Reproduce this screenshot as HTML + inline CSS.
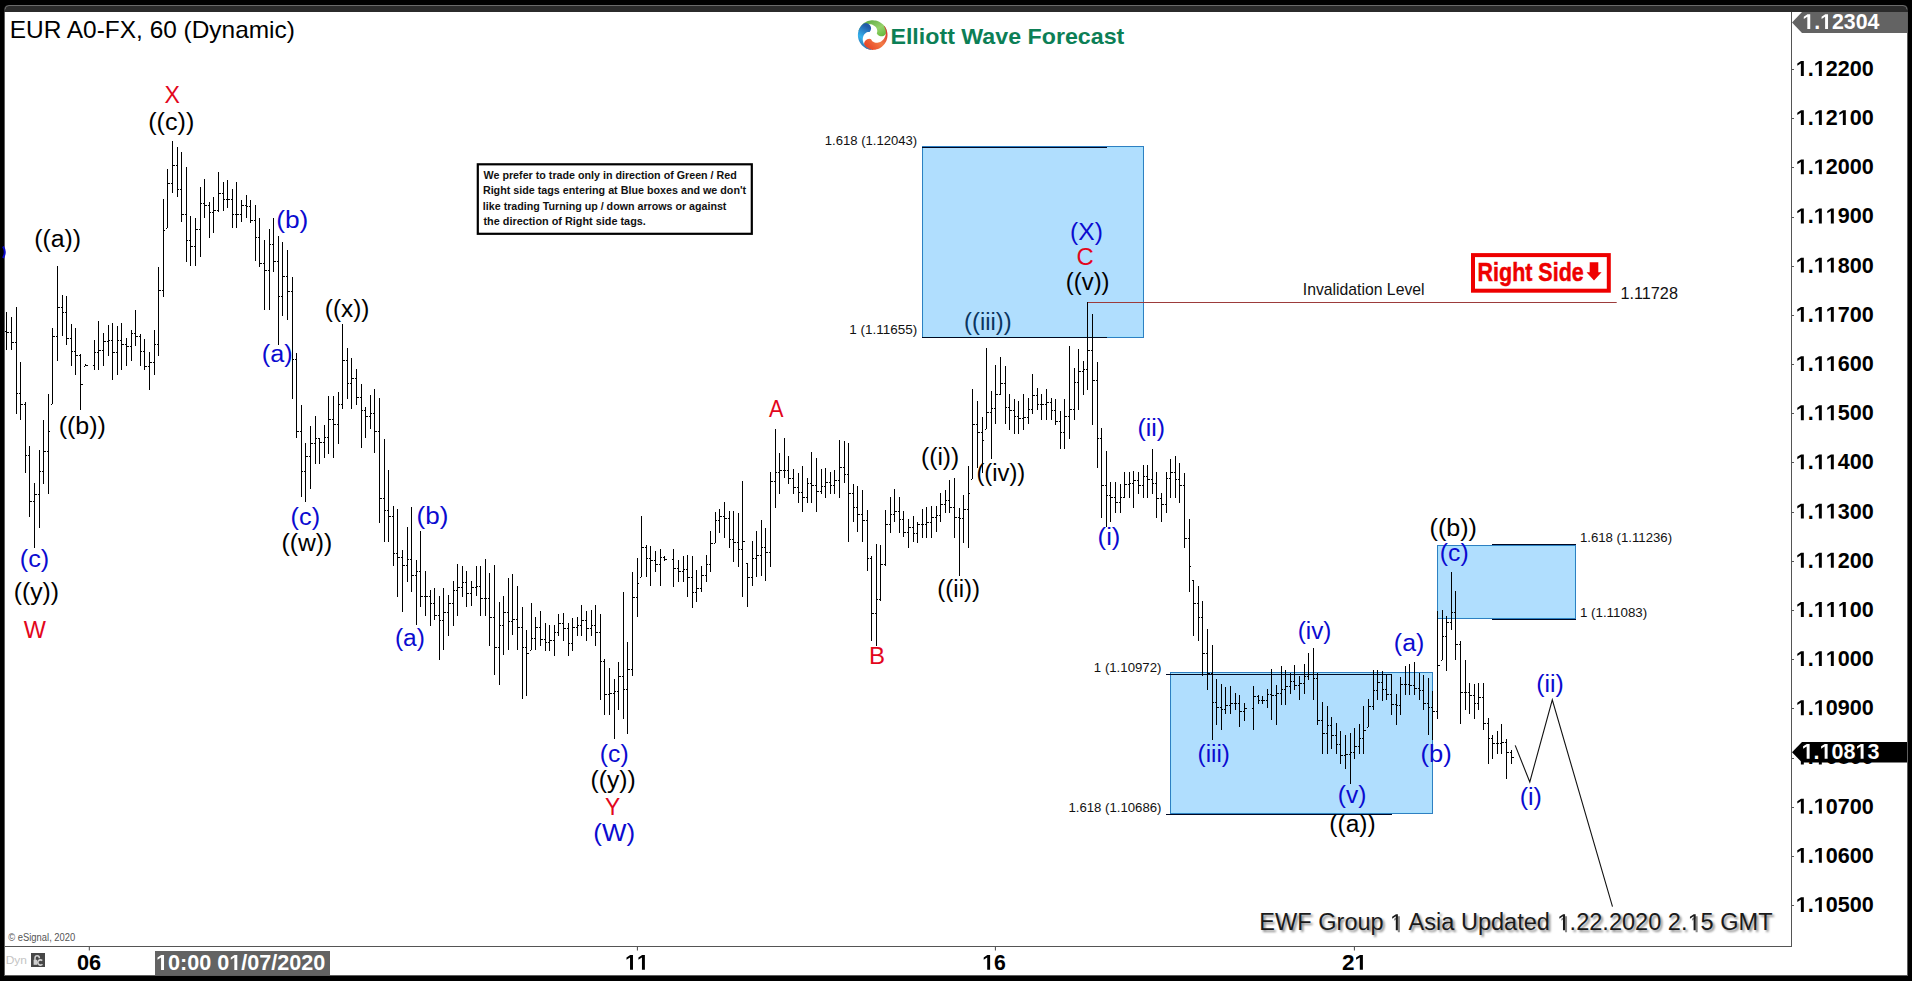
<!DOCTYPE html>
<html><head><meta charset="utf-8"><title>EUR A0-FX 60</title>
<style>html,body{margin:0;padding:0;background:#000;overflow:hidden}
svg{display:block} text{font-family:"Liberation Sans",sans-serif}</style></head>
<body><svg width="1912" height="981" viewBox="0 0 1912 981">
<rect x="0" y="0" width="1912" height="981" fill="#000"/>
<path d="M4 12 L4 10 Q4 5 9 5 L1903 5 Q1908 5 1908 10 L1908 12 Z" fill="#2b2b2b"/>
<path d="M5 9.5 Q5 5.5 9 5.5 L1903 5.5 Q1907 5.5 1907 9.5" fill="none" stroke="#6a6a6a" stroke-width="1"/>
<rect x="4" y="12" width="1904" height="964" fill="#5e5e5e"/>
<rect x="5" y="12" width="1902" height="963" fill="#fff"/>
<line x1="1791.5" y1="12" x2="1791.5" y2="947" stroke="#555" stroke-width="1"/>
<line x1="5" y1="946.5" x2="1792" y2="946.5" stroke="#555" stroke-width="1"/>
<line x1="1791" y1="69.5" x2="1794" y2="69.5" stroke="#555" stroke-width="1"/>
<text x="1795.83" y="75.9" font-size="21.6" fill="#000" font-weight="bold" textLength="77.96" lengthAdjust="spacingAndGlyphs" > . 2200</text>
<path d="M478 0L478 1170L140 959L140 1180L493 1409L759 1409L759 0Z" transform="translate(1795.83 75.9) scale(0.01053 -0.01055)" fill="#000" />
<path d="M478 0L478 1170L140 959L140 1180L493 1409L759 1409L759 0Z" transform="translate(1813.82 75.9) scale(0.01053 -0.01055)" fill="#000" />
<line x1="1791" y1="118.5" x2="1794" y2="118.5" stroke="#555" stroke-width="1"/>
<text x="1795.83" y="125.1" font-size="21.6" fill="#000" font-weight="bold" textLength="77.96" lengthAdjust="spacingAndGlyphs" > . 2 00</text>
<path d="M478 0L478 1170L140 959L140 1180L493 1409L759 1409L759 0Z" transform="translate(1795.83 125.1) scale(0.01053 -0.01055)" fill="#000" />
<path d="M478 0L478 1170L140 959L140 1180L493 1409L759 1409L759 0Z" transform="translate(1813.82 125.1) scale(0.01053 -0.01055)" fill="#000" />
<path d="M478 0L478 1170L140 959L140 1180L493 1409L759 1409L759 0Z" transform="translate(1837.81 125.1) scale(0.01053 -0.01055)" fill="#000" />
<line x1="1791" y1="167.5" x2="1794" y2="167.5" stroke="#555" stroke-width="1"/>
<text x="1795.83" y="174.3" font-size="21.6" fill="#000" font-weight="bold" textLength="77.96" lengthAdjust="spacingAndGlyphs" > . 2000</text>
<path d="M478 0L478 1170L140 959L140 1180L493 1409L759 1409L759 0Z" transform="translate(1795.83 174.3) scale(0.01053 -0.01055)" fill="#000" />
<path d="M478 0L478 1170L140 959L140 1180L493 1409L759 1409L759 0Z" transform="translate(1813.82 174.3) scale(0.01053 -0.01055)" fill="#000" />
<line x1="1791" y1="217.5" x2="1794" y2="217.5" stroke="#555" stroke-width="1"/>
<text x="1795.83" y="223.4" font-size="21.6" fill="#000" font-weight="bold" textLength="77.96" lengthAdjust="spacingAndGlyphs" > .  900</text>
<path d="M478 0L478 1170L140 959L140 1180L493 1409L759 1409L759 0Z" transform="translate(1795.83 223.4) scale(0.01053 -0.01055)" fill="#000" />
<path d="M478 0L478 1170L140 959L140 1180L493 1409L759 1409L759 0Z" transform="translate(1813.82 223.4) scale(0.01053 -0.01055)" fill="#000" />
<path d="M478 0L478 1170L140 959L140 1180L493 1409L759 1409L759 0Z" transform="translate(1825.81 223.4) scale(0.01053 -0.01055)" fill="#000" />
<line x1="1791" y1="266.5" x2="1794" y2="266.5" stroke="#555" stroke-width="1"/>
<text x="1795.83" y="272.6" font-size="21.6" fill="#000" font-weight="bold" textLength="77.96" lengthAdjust="spacingAndGlyphs" > .  800</text>
<path d="M478 0L478 1170L140 959L140 1180L493 1409L759 1409L759 0Z" transform="translate(1795.83 272.6) scale(0.01053 -0.01055)" fill="#000" />
<path d="M478 0L478 1170L140 959L140 1180L493 1409L759 1409L759 0Z" transform="translate(1813.82 272.6) scale(0.01053 -0.01055)" fill="#000" />
<path d="M478 0L478 1170L140 959L140 1180L493 1409L759 1409L759 0Z" transform="translate(1825.81 272.6) scale(0.01053 -0.01055)" fill="#000" />
<line x1="1791" y1="315.5" x2="1794" y2="315.5" stroke="#555" stroke-width="1"/>
<text x="1795.83" y="321.8" font-size="21.6" fill="#000" font-weight="bold" textLength="77.96" lengthAdjust="spacingAndGlyphs" > .  700</text>
<path d="M478 0L478 1170L140 959L140 1180L493 1409L759 1409L759 0Z" transform="translate(1795.83 321.8) scale(0.01053 -0.01055)" fill="#000" />
<path d="M478 0L478 1170L140 959L140 1180L493 1409L759 1409L759 0Z" transform="translate(1813.82 321.8) scale(0.01053 -0.01055)" fill="#000" />
<path d="M478 0L478 1170L140 959L140 1180L493 1409L759 1409L759 0Z" transform="translate(1825.81 321.8) scale(0.01053 -0.01055)" fill="#000" />
<line x1="1791" y1="364.5" x2="1794" y2="364.5" stroke="#555" stroke-width="1"/>
<text x="1795.83" y="371.0" font-size="21.6" fill="#000" font-weight="bold" textLength="77.96" lengthAdjust="spacingAndGlyphs" > .  600</text>
<path d="M478 0L478 1170L140 959L140 1180L493 1409L759 1409L759 0Z" transform="translate(1795.83 371.0) scale(0.01053 -0.01055)" fill="#000" />
<path d="M478 0L478 1170L140 959L140 1180L493 1409L759 1409L759 0Z" transform="translate(1813.82 371.0) scale(0.01053 -0.01055)" fill="#000" />
<path d="M478 0L478 1170L140 959L140 1180L493 1409L759 1409L759 0Z" transform="translate(1825.81 371.0) scale(0.01053 -0.01055)" fill="#000" />
<line x1="1791" y1="413.5" x2="1794" y2="413.5" stroke="#555" stroke-width="1"/>
<text x="1795.83" y="420.2" font-size="21.6" fill="#000" font-weight="bold" textLength="77.96" lengthAdjust="spacingAndGlyphs" > .  500</text>
<path d="M478 0L478 1170L140 959L140 1180L493 1409L759 1409L759 0Z" transform="translate(1795.83 420.2) scale(0.01053 -0.01055)" fill="#000" />
<path d="M478 0L478 1170L140 959L140 1180L493 1409L759 1409L759 0Z" transform="translate(1813.82 420.2) scale(0.01053 -0.01055)" fill="#000" />
<path d="M478 0L478 1170L140 959L140 1180L493 1409L759 1409L759 0Z" transform="translate(1825.81 420.2) scale(0.01053 -0.01055)" fill="#000" />
<line x1="1791" y1="462.5" x2="1794" y2="462.5" stroke="#555" stroke-width="1"/>
<text x="1795.83" y="469.3" font-size="21.6" fill="#000" font-weight="bold" textLength="77.96" lengthAdjust="spacingAndGlyphs" > .  400</text>
<path d="M478 0L478 1170L140 959L140 1180L493 1409L759 1409L759 0Z" transform="translate(1795.83 469.3) scale(0.01053 -0.01055)" fill="#000" />
<path d="M478 0L478 1170L140 959L140 1180L493 1409L759 1409L759 0Z" transform="translate(1813.82 469.3) scale(0.01053 -0.01055)" fill="#000" />
<path d="M478 0L478 1170L140 959L140 1180L493 1409L759 1409L759 0Z" transform="translate(1825.81 469.3) scale(0.01053 -0.01055)" fill="#000" />
<line x1="1791" y1="512.5" x2="1794" y2="512.5" stroke="#555" stroke-width="1"/>
<text x="1795.83" y="518.5" font-size="21.6" fill="#000" font-weight="bold" textLength="77.96" lengthAdjust="spacingAndGlyphs" > .  300</text>
<path d="M478 0L478 1170L140 959L140 1180L493 1409L759 1409L759 0Z" transform="translate(1795.83 518.5) scale(0.01053 -0.01055)" fill="#000" />
<path d="M478 0L478 1170L140 959L140 1180L493 1409L759 1409L759 0Z" transform="translate(1813.82 518.5) scale(0.01053 -0.01055)" fill="#000" />
<path d="M478 0L478 1170L140 959L140 1180L493 1409L759 1409L759 0Z" transform="translate(1825.81 518.5) scale(0.01053 -0.01055)" fill="#000" />
<line x1="1791" y1="561.5" x2="1794" y2="561.5" stroke="#555" stroke-width="1"/>
<text x="1795.83" y="567.7" font-size="21.6" fill="#000" font-weight="bold" textLength="77.96" lengthAdjust="spacingAndGlyphs" > .  200</text>
<path d="M478 0L478 1170L140 959L140 1180L493 1409L759 1409L759 0Z" transform="translate(1795.83 567.7) scale(0.01053 -0.01055)" fill="#000" />
<path d="M478 0L478 1170L140 959L140 1180L493 1409L759 1409L759 0Z" transform="translate(1813.82 567.7) scale(0.01053 -0.01055)" fill="#000" />
<path d="M478 0L478 1170L140 959L140 1180L493 1409L759 1409L759 0Z" transform="translate(1825.81 567.7) scale(0.01053 -0.01055)" fill="#000" />
<line x1="1791" y1="610.5" x2="1794" y2="610.5" stroke="#555" stroke-width="1"/>
<text x="1795.83" y="616.9" font-size="21.6" fill="#000" font-weight="bold" textLength="77.96" lengthAdjust="spacingAndGlyphs" > .   00</text>
<path d="M478 0L478 1170L140 959L140 1180L493 1409L759 1409L759 0Z" transform="translate(1795.83 616.9) scale(0.01053 -0.01055)" fill="#000" />
<path d="M478 0L478 1170L140 959L140 1180L493 1409L759 1409L759 0Z" transform="translate(1813.82 616.9) scale(0.01053 -0.01055)" fill="#000" />
<path d="M478 0L478 1170L140 959L140 1180L493 1409L759 1409L759 0Z" transform="translate(1825.81 616.9) scale(0.01053 -0.01055)" fill="#000" />
<path d="M478 0L478 1170L140 959L140 1180L493 1409L759 1409L759 0Z" transform="translate(1837.81 616.9) scale(0.01053 -0.01055)" fill="#000" />
<line x1="1791" y1="659.5" x2="1794" y2="659.5" stroke="#555" stroke-width="1"/>
<text x="1795.83" y="666.1" font-size="21.6" fill="#000" font-weight="bold" textLength="77.96" lengthAdjust="spacingAndGlyphs" > .  000</text>
<path d="M478 0L478 1170L140 959L140 1180L493 1409L759 1409L759 0Z" transform="translate(1795.83 666.1) scale(0.01053 -0.01055)" fill="#000" />
<path d="M478 0L478 1170L140 959L140 1180L493 1409L759 1409L759 0Z" transform="translate(1813.82 666.1) scale(0.01053 -0.01055)" fill="#000" />
<path d="M478 0L478 1170L140 959L140 1180L493 1409L759 1409L759 0Z" transform="translate(1825.81 666.1) scale(0.01053 -0.01055)" fill="#000" />
<line x1="1791" y1="708.5" x2="1794" y2="708.5" stroke="#555" stroke-width="1"/>
<text x="1795.83" y="715.2" font-size="21.6" fill="#000" font-weight="bold" textLength="77.96" lengthAdjust="spacingAndGlyphs" > . 0900</text>
<path d="M478 0L478 1170L140 959L140 1180L493 1409L759 1409L759 0Z" transform="translate(1795.83 715.2) scale(0.01053 -0.01055)" fill="#000" />
<path d="M478 0L478 1170L140 959L140 1180L493 1409L759 1409L759 0Z" transform="translate(1813.82 715.2) scale(0.01053 -0.01055)" fill="#000" />
<line x1="1791" y1="758.5" x2="1794" y2="758.5" stroke="#555" stroke-width="1"/>
<text x="1795.83" y="764.4" font-size="21.6" fill="#000" font-weight="bold" textLength="77.96" lengthAdjust="spacingAndGlyphs" > . 0800</text>
<path d="M478 0L478 1170L140 959L140 1180L493 1409L759 1409L759 0Z" transform="translate(1795.83 764.4) scale(0.01053 -0.01055)" fill="#000" />
<path d="M478 0L478 1170L140 959L140 1180L493 1409L759 1409L759 0Z" transform="translate(1813.82 764.4) scale(0.01053 -0.01055)" fill="#000" />
<line x1="1791" y1="807.5" x2="1794" y2="807.5" stroke="#555" stroke-width="1"/>
<text x="1795.83" y="813.6" font-size="21.6" fill="#000" font-weight="bold" textLength="77.96" lengthAdjust="spacingAndGlyphs" > . 0700</text>
<path d="M478 0L478 1170L140 959L140 1180L493 1409L759 1409L759 0Z" transform="translate(1795.83 813.6) scale(0.01053 -0.01055)" fill="#000" />
<path d="M478 0L478 1170L140 959L140 1180L493 1409L759 1409L759 0Z" transform="translate(1813.82 813.6) scale(0.01053 -0.01055)" fill="#000" />
<line x1="1791" y1="856.5" x2="1794" y2="856.5" stroke="#555" stroke-width="1"/>
<text x="1795.83" y="862.8" font-size="21.6" fill="#000" font-weight="bold" textLength="77.96" lengthAdjust="spacingAndGlyphs" > . 0600</text>
<path d="M478 0L478 1170L140 959L140 1180L493 1409L759 1409L759 0Z" transform="translate(1795.83 862.8) scale(0.01053 -0.01055)" fill="#000" />
<path d="M478 0L478 1170L140 959L140 1180L493 1409L759 1409L759 0Z" transform="translate(1813.82 862.8) scale(0.01053 -0.01055)" fill="#000" />
<line x1="1791" y1="905.5" x2="1794" y2="905.5" stroke="#555" stroke-width="1"/>
<text x="1795.83" y="912.0" font-size="21.6" fill="#000" font-weight="bold" textLength="77.96" lengthAdjust="spacingAndGlyphs" > . 0500</text>
<path d="M478 0L478 1170L140 959L140 1180L493 1409L759 1409L759 0Z" transform="translate(1795.83 912.0) scale(0.01053 -0.01055)" fill="#000" />
<path d="M478 0L478 1170L140 959L140 1180L493 1409L759 1409L759 0Z" transform="translate(1813.82 912.0) scale(0.01053 -0.01055)" fill="#000" />
<path d="M1792 22.5 L1802 12 L1907 12 L1907 33 L1802 33 Z" fill="#636363"/>
<text x="1802.34" y="29.0" font-size="21.4" fill="#fff" font-weight="bold" textLength="77.07" lengthAdjust="spacingAndGlyphs" > . 2304</text>
<path d="M478 0L478 1170L140 959L140 1180L493 1409L759 1409L759 0Z" transform="translate(1802.34 29.0) scale(0.01041 -0.01045)" fill="#fff" />
<path d="M478 0L478 1170L140 959L140 1180L493 1409L759 1409L759 0Z" transform="translate(1820.12 29.0) scale(0.01041 -0.01045)" fill="#fff" />
<path d="M1792 752.3 L1802 742 L1907 742 L1907 762.5 L1802 762.5 Z" fill="#000"/>
<text x="1801.63" y="758.7" font-size="21.4" fill="#fff" font-weight="bold" textLength="77.95" lengthAdjust="spacingAndGlyphs" > . 08 3</text>
<path d="M478 0L478 1170L140 959L140 1180L493 1409L759 1409L759 0Z" transform="translate(1801.63 758.7) scale(0.01053 -0.01045)" fill="#fff" />
<path d="M478 0L478 1170L140 959L140 1180L493 1409L759 1409L759 0Z" transform="translate(1819.61 758.7) scale(0.01053 -0.01045)" fill="#fff" />
<path d="M478 0L478 1170L140 959L140 1180L493 1409L759 1409L759 0Z" transform="translate(1855.59 758.7) scale(0.01053 -0.01045)" fill="#fff" />
<line x1="89.3" y1="947" x2="89.3" y2="950.5" stroke="#444" stroke-width="1"/>
<text x="76.94" y="969.8" font-size="21.4" fill="#000" font-weight="bold" textLength="24.14" lengthAdjust="spacingAndGlyphs" >06</text>
<line x1="637.4" y1="947" x2="637.4" y2="950.5" stroke="#444" stroke-width="1"/>
<text x="625.03" y="969.8" font-size="21.4" fill="#000" font-weight="bold" textLength="23.84" lengthAdjust="spacingAndGlyphs" >  </text>
<path d="M478 0L478 1170L140 959L140 1180L493 1409L759 1409L759 0Z" transform="translate(625.03 969.8) scale(0.01047 -0.01045)" fill="#000" />
<path d="M478 0L478 1170L140 959L140 1180L493 1409L759 1409L759 0Z" transform="translate(636.95 969.8) scale(0.01047 -0.01045)" fill="#000" />
<line x1="995.4" y1="947" x2="995.4" y2="950.5" stroke="#444" stroke-width="1"/>
<text x="982.25" y="969.8" font-size="21.4" fill="#000" font-weight="bold" textLength="23.62" lengthAdjust="spacingAndGlyphs" > 6</text>
<path d="M478 0L478 1170L140 959L140 1180L493 1409L759 1409L759 0Z" transform="translate(982.25 969.8) scale(0.01037 -0.01045)" fill="#000" />
<line x1="1354.4" y1="947" x2="1354.4" y2="950.5" stroke="#444" stroke-width="1"/>
<text x="1342.02" y="969.8" font-size="21.4" fill="#000" font-weight="bold" textLength="25.06" lengthAdjust="spacingAndGlyphs" >2 </text>
<path d="M478 0L478 1170L140 959L140 1180L493 1409L759 1409L759 0Z" transform="translate(1354.55 969.8) scale(0.01100 -0.01045)" fill="#000" />
<rect x="155" y="951" width="175" height="24" fill="#636363"/>
<text x="156.02" y="969.9" font-size="21.6" fill="#fff" font-weight="bold" textLength="169.36" lengthAdjust="spacingAndGlyphs" > 0:00 0 /07/2020</text>
<path d="M478 0L478 1170L140 959L140 1180L493 1409L759 1409L759 0Z" transform="translate(156.02 969.9) scale(0.01055 -0.01055)" fill="#fff" />
<path d="M478 0L478 1170L140 959L140 1180L493 1409L759 1409L759 0Z" transform="translate(229.28 969.9) scale(0.01055 -0.01055)" fill="#fff" />
<text x="5.72" y="964.2" font-size="11.2" fill="#c4c4c4" font-weight="normal" textLength="21.26" lengthAdjust="spacingAndGlyphs" >Dyn</text>
<rect x="31" y="953" width="14" height="14" fill="#474747"/>
<path d="M35 962.5 V958 Q35 955.8 37.2 955.8 Q39.4 955.8 39.4 958.2" fill="none" stroke="#d0d0d0" stroke-width="1.5"/>
<rect x="33.6" y="959.8" width="3.6" height="5" fill="#d0d0d0"/>
<path d="M42.2 960.6 A2.6 2.6 0 1 0 42.4 964.2" fill="none" stroke="#d0d0d0" stroke-width="1.7"/>
<text x="8.26" y="940.8" font-size="10" fill="#555" font-weight="normal" textLength="67.01" lengthAdjust="spacingAndGlyphs" >© eSignal, 2020</text>
<text x="9.81" y="37.9" font-size="23.4" fill="#000" font-weight="normal" textLength="285.1" lengthAdjust="spacingAndGlyphs" >EUR A0-FX, 60 (Dynamic)</text>
<defs>
<linearGradient id="gG" x1="0" y1="0" x2="1" y2="1"><stop offset="0" stop-color="#4f9d3a"/><stop offset="0.6" stop-color="#95d26a"/><stop offset="1" stop-color="#5cb434"/></linearGradient>
<linearGradient id="gR" x1="1" y1="0" x2="0" y2="1"><stop offset="0" stop-color="#c9202a"/><stop offset="0.5" stop-color="#f37b45"/><stop offset="1" stop-color="#e2361f"/></linearGradient>
<linearGradient id="gB" x1="0" y1="1" x2="0.3" y2="0"><stop offset="0" stop-color="#2a4f8c"/><stop offset="0.5" stop-color="#35b2ec"/><stop offset="1" stop-color="#235aa8"/></linearGradient>
</defs>
<path d="M858.47 31.02 L858.88 29.80 L859.40 28.61 L860.01 27.48 L860.73 26.40 L861.53 25.39 L862.42 24.45 L863.39 23.60 L864.42 22.83 L865.52 22.16 L866.68 21.58 L867.88 21.11 L869.12 20.74 L870.38 20.48 L871.67 20.34 L872.96 20.30 L874.25 20.38 L875.52 20.57 L876.78 20.87 L878.00 21.28 L879.19 21.80 L880.32 22.41 L881.40 23.13 L882.41 23.93 L883.35 24.82 L884.20 25.79 L884.97 26.82 L885.64 27.92 L886.22 29.08 A5.20 5.20 0 0 1 876.72 33.31 L876.98 32.73 L877.16 32.09 L877.25 31.42 L877.25 30.71 L877.15 29.98 L876.95 29.25 L876.66 28.52 L876.26 27.80 L875.76 27.12 L875.17 26.48 L874.49 25.90 L873.72 25.38 L872.88 24.93 L871.96 24.58 L870.99 24.32 L869.97 24.16 L868.92 24.11 L867.84 24.18 L866.75 24.36 L865.66 24.67 L864.60 25.09 L863.56 25.64 L862.58 26.30 L861.66 27.08 L860.81 27.96 L860.07 28.94 L859.44 30.01 L858.95 31.16 Z" fill="url(#gG)"/>
<path d="M884.36 25.99 L885.16 27.12 L885.85 28.32 L886.43 29.57 L886.89 30.88 L887.22 32.22 L887.42 33.59 L887.50 34.97 L887.45 36.35 L887.27 37.72 L886.96 39.07 L886.52 40.39 L885.97 41.65 L885.30 42.86 L884.52 44.01 L883.64 45.07 L882.66 46.05 L881.59 46.93 L880.45 47.71 L879.24 48.38 L877.97 48.93 L876.66 49.36 L875.31 49.67 L873.93 49.85 L872.55 49.90 L871.17 49.82 L869.80 49.61 L868.46 49.28 L867.16 48.82 A5.20 5.20 0 0 1 871.05 39.18 L871.30 39.79 L871.65 40.37 L872.10 40.92 L872.64 41.42 L873.27 41.86 L873.97 42.22 L874.75 42.50 L875.59 42.69 L876.48 42.77 L877.39 42.74 L878.33 42.60 L879.28 42.33 L880.21 41.95 L881.12 41.45 L882.00 40.83 L882.81 40.09 L883.56 39.25 L884.22 38.31 L884.78 37.28 L885.24 36.17 L885.58 34.99 L885.79 33.76 L885.86 32.49 L885.78 31.21 L885.56 29.92 L885.19 28.66 L884.66 27.44 L883.97 26.30 Z" fill="url(#gR)"/>
<path d="M871.41 49.84 L870.22 49.69 L869.05 49.44 L867.90 49.10 L866.78 48.67 L865.70 48.14 L864.67 47.53 L863.69 46.84 L862.77 46.07 L861.91 45.23 L861.13 44.33 L860.42 43.36 L859.79 42.34 L859.25 41.27 L858.79 40.16 L858.43 39.02 L858.16 37.85 L857.98 36.67 L857.90 35.47 L857.92 34.27 L858.04 33.08 L858.25 31.90 L858.56 30.74 L858.96 29.61 L859.45 28.51 L860.02 27.46 L860.68 26.46 L861.42 25.52 L862.23 24.63 A5.20 5.20 0 0 1 869.59 31.99 L868.97 31.93 L868.34 31.96 L867.69 32.08 L867.04 32.29 L866.40 32.58 L865.78 32.97 L865.20 33.44 L864.66 33.99 L864.17 34.62 L863.74 35.32 L863.38 36.09 L863.09 36.92 L862.89 37.79 L862.79 38.71 L862.78 39.65 L862.86 40.62 L863.06 41.59 L863.35 42.56 L863.75 43.51 L864.25 44.43 L864.86 45.32 L865.56 46.15 L866.36 46.92 L867.24 47.61 L868.20 48.22 L869.23 48.72 L870.32 49.11 L871.45 49.35 Z" fill="url(#gB)"/>
<text x="890.45" y="43.5" font-size="22.8" fill="#0c7f56" font-weight="bold" textLength="233.83" lengthAdjust="spacingAndGlyphs" >Elliott Wave Forecast</text>
<rect x="477.8" y="164.3" width="274" height="69.5" fill="#fff" stroke="#000" stroke-width="2.2"/>
<text x="483.59" y="179.3" font-size="11" fill="#111" font-weight="bold" textLength="253.22" lengthAdjust="spacingAndGlyphs" >We prefer to trade only in direction of Green / Red</text>
<text x="482.88" y="194.45" font-size="11" fill="#111" font-weight="bold" textLength="263.25" lengthAdjust="spacingAndGlyphs" >Right side tags entering at Blue boxes and we don't</text>
<text x="482.86" y="209.6" font-size="11" fill="#111" font-weight="bold" textLength="243.57" lengthAdjust="spacingAndGlyphs" >like trading Turning up / down arrows or against</text>
<text x="483.47" y="224.75" font-size="11" fill="#111" font-weight="bold" textLength="162.38" lengthAdjust="spacingAndGlyphs" >the direction of Right side tags.</text>
<rect x="922.5" y="146.5" width="221" height="191" fill="#b0defe" stroke="#2f7fc2" stroke-width="1" shape-rendering="crispEdges"/>
<rect x="923.5" y="147.5" width="219" height="189" fill="none" stroke="#9fe4fd" stroke-width="1" stroke-opacity="0.7" shape-rendering="crispEdges"/>
<rect x="1170.5" y="672.5" width="262" height="141" fill="#b0defe" stroke="#2f7fc2" stroke-width="1" shape-rendering="crispEdges"/>
<rect x="1171.5" y="673.5" width="260" height="139" fill="none" stroke="#9fe4fd" stroke-width="1" stroke-opacity="0.7" shape-rendering="crispEdges"/>
<rect x="1437.5" y="545.5" width="138" height="73" fill="#b0defe" stroke="#2f7fc2" stroke-width="1" shape-rendering="crispEdges"/>
<rect x="1438.5" y="546.5" width="136" height="71" fill="none" stroke="#9fe4fd" stroke-width="1" stroke-opacity="0.7" shape-rendering="crispEdges"/>
<line x1="922" y1="147.5" x2="1107" y2="147.5" stroke="#000822" stroke-width="1.15"/>
<line x1="922" y1="337.5" x2="1107" y2="337.5" stroke="#000822" stroke-width="1.15"/>
<line x1="1166" y1="674.5" x2="1392" y2="674.5" stroke="#000822" stroke-width="1.15"/>
<line x1="1166" y1="814.5" x2="1392" y2="814.5" stroke="#000822" stroke-width="1.15"/>
<line x1="1492" y1="544.5" x2="1576" y2="544.5" stroke="#000822" stroke-width="1.15"/>
<line x1="1492" y1="619.5" x2="1576" y2="619.5" stroke="#000822" stroke-width="1.15"/>
<text x="824.8" y="144.8" font-size="12.2" fill="#111" font-weight="normal" textLength="92.41" lengthAdjust="spacingAndGlyphs" >1.618 (1.12043)</text>
<text x="849.39" y="334.4" font-size="12.2" fill="#111" font-weight="normal" textLength="67.94" lengthAdjust="spacingAndGlyphs" >1 (1.11655)</text>
<text x="1093.89" y="671.7" font-size="12.2" fill="#111" font-weight="normal" textLength="67.52" lengthAdjust="spacingAndGlyphs" >1 (1.10972)</text>
<text x="1068.5" y="811.8" font-size="12.2" fill="#111" font-weight="normal" textLength="92.92" lengthAdjust="spacingAndGlyphs" >1.618 (1.10686)</text>
<text x="1579.91" y="541.6" font-size="12.2" fill="#111" font-weight="normal" textLength="92.2" lengthAdjust="spacingAndGlyphs" >1.618 (1.11236)</text>
<text x="1579.9" y="616.5" font-size="12.2" fill="#111" font-weight="normal" textLength="67.32" lengthAdjust="spacingAndGlyphs" >1 (1.11083)</text>
<path d="M6.5 312V350M11.5 317V350M16.5 307V414M20.5 362V420M25.5 402V473M29.5 446V517M34.5 483V548M39.5 450V528M43.5 420V484M48.5 394V494M52.5 328V404M57.5 266V361M62.5 295V336M66.5 296V345M71.5 324V366M75.5 328V375M80.5 354V410M85.5 364V366M94.5 340V370M98.5 321V370M103.5 333V366M108.5 325V356M112.5 323V380M117.5 326V375M121.5 323V370M126.5 338V366M131.5 330V361M135.5 310V346M140.5 334V366M144.5 339V370M149.5 352V390M154.5 330V375M158.5 267V356M163.5 199V297M167.5 169V228M172.5 141V193M177.5 147V197M181.5 152V222M186.5 167V262M190.5 216V266M195.5 218V266M200.5 187V257M204.5 179V218M209.5 202V238M213.5 197V233M218.5 172V212M223.5 182V211M227.5 180V208M232.5 189V228M236.5 182V228M241.5 200V222M246.5 195V218M250.5 200V223M255.5 205V261M259.5 218V267M264.5 240V310M269.5 229V310M273.5 218V272M278.5 236V345M282.5 242V316M287.5 250V320M292.5 277V399M296.5 353V438M301.5 405V497M305.5 443V502M310.5 426V489M315.5 416V464M319.5 438V464M324.5 425V458M328.5 396V454M333.5 396V458M338.5 392V444M342.5 324V409M347.5 348V399M351.5 358V409M356.5 369V405M361.5 384V448M365.5 407V438M370.5 395V429M374.5 389V453M379.5 398V523M384.5 439V542M388.5 470V542M393.5 506V566M397.5 509V597M402.5 550V612M407.5 527V582M411.5 507V592M416.5 560V625M420.5 531V607M425.5 571V616M430.5 590V626M434.5 588V620M439.5 596V660M443.5 588V650M448.5 595V636M453.5 581V626M457.5 564V616M462.5 566V597M466.5 571V607M471.5 581V606M476.5 566V596M480.5 566V616M485.5 559V616M489.5 573V646M494.5 565V675M499.5 602V685M503.5 596V655M508.5 578V650M512.5 574V635M517.5 586V650M522.5 607V699M526.5 630V696M531.5 603V650M535.5 617V650M540.5 611V646M545.5 623V651M549.5 625V651M554.5 625V656M558.5 614V636M563.5 613V641M568.5 623V656M572.5 618V651M577.5 617V636M581.5 605V636M586.5 611V641M591.5 610V636M595.5 605V646M600.5 614V700M604.5 659V715M609.5 668V715M614.5 679V739M618.5 662V710M623.5 592V719M627.5 642V734M632.5 572V676M637.5 558V617M641.5 516V577M646.5 545V577M650.5 546V586M655.5 551V572M660.5 549V586M664.5 556V561M673.5 549V587M678.5 560V582M683.5 556V582M687.5 555V597M692.5 556V608M696.5 570V602M701.5 566V592M706.5 555V582M710.5 531V572M715.5 512V543M719.5 509V533M724.5 502V538M729.5 511V548M733.5 511V562M738.5 513V567M742.5 481V597M747.5 563V607M752.5 541V586M756.5 531V577M761.5 520V576M765.5 528V581M770.5 472V567M775.5 429V508M779.5 453V494M784.5 438V478M788.5 456V484M793.5 469V494M798.5 473V503M802.5 466V512M807.5 478V503M811.5 452V503M816.5 458V512M821.5 469V494M825.5 468V498M830.5 472V494M834.5 470V494M839.5 440V498M844.5 441V483M848.5 443V542M853.5 484V522M857.5 486V532M862.5 490V542M867.5 510V571M871.5 556V641M876.5 544V646M880.5 545V601M885.5 510V566M890.5 497V533M894.5 489V522M899.5 497V533M903.5 511V537M908.5 519V548M913.5 516V542M917.5 522V543M922.5 509V538M926.5 507V538M931.5 506V538M936.5 506V532M940.5 493V522M945.5 490V513M949.5 480V513M954.5 478V538M959.5 508V576M963.5 495V543M968.5 466V548M972.5 389V479M977.5 401V468M982.5 417V473M986.5 348V429M991.5 391V459M995.5 365V424M1000.5 357V395M1005.5 366V424M1009.5 394V430M1014.5 399V434M1018.5 401V434M1023.5 394V430M1028.5 398V424M1032.5 374V414M1037.5 388V410M1041.5 394V420M1046.5 389V420M1051.5 398V420M1055.5 399V425M1060.5 411V449M1064.5 399V449M1069.5 346V439M1074.5 368V420M1078.5 349V410M1083.5 361V395M1087.5 302V390M1092.5 314V425M1097.5 362V468M1101.5 428V518M1106.5 451V527M1110.5 482V522M1115.5 482V513M1120.5 484V513M1124.5 472V498M1129.5 472V498M1133.5 471V508M1138.5 472V494M1143.5 465V498M1147.5 465V498M1152.5 449V494M1156.5 472V518M1161.5 493V522M1166.5 472V513M1170.5 459V498M1175.5 456V498M1179.5 463V503M1184.5 473V548M1189.5 519V592M1193.5 580V636M1198.5 586V641M1202.5 601V676M1207.5 629V690M1212.5 645V740M1216.5 679V725M1221.5 684V730M1225.5 687V714M1230.5 686V714M1235.5 693V710M1239.5 695V727M1244.5 703V721M1253.5 686V730M1258.5 695V704M1262.5 696V704M1267.5 689V708M1271.5 669V720M1276.5 685V725M1281.5 666V705M1285.5 670V705M1290.5 673V694M1294.5 665V690M1299.5 676V700M1304.5 664V694M1308.5 653V680M1313.5 648V700M1317.5 673V725M1322.5 702V754M1327.5 706V754M1331.5 717V749M1336.5 723V754M1340.5 731V764M1345.5 735V769M1350.5 733V784M1354.5 728V759M1359.5 724V754M1363.5 706V754M1368.5 699V727M1373.5 670V710M1377.5 670V700M1382.5 671V701M1386.5 675V700M1391.5 674V715M1396.5 694V725M1400.5 677V715M1405.5 666V695M1409.5 664V695M1414.5 662V695M1419.5 673V700M1423.5 675V710M1428.5 678V735M1432.5 691V740M1437.5 611V719M1442.5 610V660M1446.5 616V671M1451.5 572V630M1455.5 591V660M1460.5 641V724M1465.5 660V710M1469.5 683V714M1474.5 684V719M1478.5 683V710M1483.5 683V730M1488.5 718V764M1492.5 735V759M1497.5 731V754M1501.5 724V754M1506.5 739V779M1511.5 750V764" stroke="#000" stroke-width="1" fill="none" shape-rendering="crispEdges"/>
<path d="M5 331.5H6M7 332.5H9M10 332.5H11M12 342.5H14M15 342.5H16M17 393.5H18M19 393.5H20M21 404.5H23M24 404.5H25M26 455.5H27M28 455.5H29M30 501.5H32M33 501.5H34M35 494.5H37M38 494.5H39M40 471.5H41M42 471.5H43M44 451.5H46M47 451.5H48M49 431.5H50M51 404.5H52M53 336.5H55M56 336.5H57M58 307.5H60M61 307.5H62M63 312.5H64M65 312.5H66M67 338.5H69M70 338.5H71M72 351.5H73M74 351.5H75M76 355.5H78M79 355.5H80M81 384.5H83M84 366.5H85M86 365.5H88M93 365.5H94M95 352.5H96M97 352.5H98M99 350.5H101M102 350.5H103M104 341.5H106M107 341.5H108M109 340.5H110M111 340.5H112M113 352.5H115M116 352.5H117M118 340.5H119M120 340.5H121M122 344.5H124M125 344.5H126M127 346.5H129M130 346.5H131M132 333.5H133M134 333.5H135M136 336.5H138M139 336.5H140M141 351.5H142M143 351.5H144M145 366.5H147M148 366.5H149M150 362.5H152M153 362.5H154M155 344.5H156M157 344.5H158M159 290.5H161M162 290.5H163M164 230.5H165M166 228.5H167M168 183.5H170M171 183.5H172M173 165.5H175M176 165.5H177M178 189.5H179M180 189.5H181M182 214.5H184M185 214.5H186M187 240.5H188M189 240.5H190M191 246.5H193M194 246.5H195M196 229.5H198M199 229.5H200M201 203.5H202M203 203.5H204M205 205.5H207M208 205.5H209M210 212.5H211M212 212.5H213M214 210.5H216M217 210.5H218M219 193.5H221M222 193.5H223M224 199.5H225M226 199.5H227M228 199.5H230M231 199.5H232M233 214.5H234M235 214.5H236M237 214.5H239M240 214.5H241M242 205.5H244M245 205.5H246M247 206.5H248M249 206.5H250M251 220.5H253M254 220.5H255M256 237.5H257M258 237.5H259M260 263.5H262M263 263.5H264M265 270.5H267M268 270.5H269M270 244.5H271M272 244.5H273M274 261.5H276M277 261.5H278M279 296.5H280M281 296.5H282M283 276.5H285M286 276.5H287M288 291.5H290M291 291.5H292M293 359.5H294M295 359.5H296M297 431.5H299M300 431.5H301M302 471.5H303M304 471.5H305M306 456.5H308M309 456.5H310M311 443.5H313M314 443.5H315M316 438.5H317M318 438.5H319M320 442.5H322M323 442.5H324M325 437.5H326M327 437.5H328M329 419.5H331M332 419.5H333M334 424.5H336M337 424.5H338M339 404.5H340M341 404.5H342M343 360.5H345M346 360.5H347M348 383.5H349M350 383.5H351M352 378.5H354M355 378.5H356M357 397.5H359M360 397.5H361M362 410.5H363M364 410.5H365M366 416.5H368M369 416.5H370M371 413.5H372M373 413.5H374M375 431.5H377M378 431.5H379M380 498.5H382M383 498.5H384M385 510.5H386M387 510.5H388M389 516.5H391M392 516.5H393M394 553.5H395M396 553.5H397M398 557.5H400M401 557.5H402M403 565.5H405M406 565.5H407M408 559.5H409M410 559.5H411M412 575.5H414M415 575.5H416M417 571.5H418M419 571.5H420M421 596.5H423M424 596.5H425M426 596.5H428M429 596.5H430M431 603.5H432M433 603.5H434M435 615.5H437M438 615.5H439M440 620.5H441M442 620.5H443M444 612.5H446M447 612.5H448M449 603.5H451M452 603.5H453M454 590.5H455M456 590.5H457M458 587.5H460M461 587.5H462M463 582.5H464M465 582.5H466M467 593.5H469M470 593.5H471M472 587.5H474M475 587.5H476M477 586.5H478M479 586.5H480M481 598.5H483M484 598.5H485M486 598.5H487M488 598.5H489M490 617.5H492M493 617.5H494M495 647.5H497M498 647.5H499M500 625.5H501M502 625.5H503M504 612.5H506M507 612.5H508M509 621.5H510M511 621.5H512M513 619.5H515M516 619.5H517M518 627.5H520M521 627.5H522M523 647.5H524M525 647.5H526M527 653.5H529M530 650.5H531M532 638.5H533M534 638.5H535M536 627.5H538M539 627.5H540M541 639.5H543M544 639.5H545M546 642.5H547M548 642.5H549M550 640.5H552M553 640.5H554M555 632.5H556M557 632.5H558M559 623.5H561M562 623.5H563M564 628.5H566M567 628.5H568M569 643.5H570M571 643.5H572M573 627.5H575M576 627.5H577M578 625.5H579M580 625.5H581M582 620.5H584M585 620.5H586M587 628.5H589M590 628.5H591M592 625.5H593M594 625.5H595M596 632.5H598M599 632.5H600M601 661.5H602M603 661.5H604M605 694.5H607M608 694.5H609M610 693.5H612M613 693.5H614M615 691.5H616M617 691.5H618M619 676.5H621M622 676.5H623M624 689.5H625M626 689.5H627M628 669.5H630M631 669.5H632M633 597.5H635M636 597.5H637M638 583.5H639M640 577.5H641M642 547.5H644M645 547.5H646M647 558.5H648M649 558.5H650M651 560.5H653M654 560.5H655M656 564.5H658M659 564.5H660M661 557.5H662M663 557.5H664M665 559.5H667M672 559.5H673M674 568.5H676M677 568.5H678M679 571.5H681M682 571.5H683M684 569.5H685M686 569.5H687M688 577.5H690M691 577.5H692M693 592.5H694M695 592.5H696M697 588.5H699M700 588.5H701M702 575.5H704M705 575.5H706M707 564.5H708M709 564.5H710M711 543.5H713M714 543.5H715M716 520.5H717M718 520.5H719M720 516.5H722M723 516.5H724M725 518.5H727M728 518.5H729M730 539.5H731M732 539.5H733M734 542.5H736M737 542.5H738M739 549.5H740M741 549.5H742M743 541.5H745M746 563.5H747M748 577.5H750M751 577.5H752M753 558.5H754M755 558.5H756M757 555.5H759M760 555.5H761M762 547.5H763M764 547.5H765M766 552.5H768M769 552.5H770M771 481.5H773M774 481.5H775M776 472.5H777M778 472.5H779M780 470.5H782M783 470.5H784M785 470.5H786M787 470.5H788M789 478.5H791M792 478.5H793M794 487.5H796M797 487.5H798M799 492.5H800M801 492.5H802M803 497.5H805M806 497.5H807M808 483.5H809M810 483.5H811M812 485.5H814M815 485.5H816M817 491.5H819M820 491.5H821M822 486.5H823M824 486.5H825M826 482.5H828M829 482.5H830M831 485.5H832M833 485.5H834M835 480.5H837M838 480.5H839M840 467.5H842M843 467.5H844M845 474.5H846M847 474.5H848M849 493.5H851M852 493.5H853M854 507.5H855M856 507.5H857M858 514.5H860M861 514.5H862M863 520.5H865M866 520.5H867M868 558.5H869M870 558.5H871M872 613.5H874M875 613.5H876M877 599.5H878M879 599.5H880M881 564.5H883M884 564.5H885M886 524.5H888M889 524.5H890M891 514.5H892M893 514.5H894M895 511.5H897M898 511.5H899M900 519.5H901M902 519.5H903M904 532.5H906M907 532.5H908M909 527.5H911M912 527.5H913M914 533.5H915M916 533.5H917M918 524.5H920M921 524.5H922M923 524.5H924M925 524.5H926M927 522.5H929M930 522.5H931M932 517.5H934M935 517.5H936M937 515.5H938M939 515.5H940M941 504.5H943M944 504.5H945M946 500.5H947M948 500.5H949M950 507.5H952M953 507.5H954M955 517.5H957M958 517.5H959M960 518.5H961M962 518.5H963M964 509.5H966M967 509.5H968M969 493.5H970M971 479.5H972M973 424.5H975M976 424.5H977M978 432.5H980M981 432.5H982M983 440.5H984M985 429.5H986M987 412.5H989M990 412.5H991M992 408.5H993M994 408.5H995M996 394.5H998M999 394.5H1000M1001 383.5H1003M1004 383.5H1005M1006 407.5H1007M1008 407.5H1009M1010 410.5H1012M1013 410.5H1014M1015 416.5H1016M1017 416.5H1018M1019 418.5H1021M1022 418.5H1023M1024 417.5H1026M1027 417.5H1028M1029 409.5H1030M1031 409.5H1032M1033 395.5H1035M1036 395.5H1037M1038 404.5H1039M1040 404.5H1041M1042 404.5H1044M1045 404.5H1046M1047 402.5H1049M1050 402.5H1051M1052 410.5H1053M1054 410.5H1055M1056 421.5H1058M1059 421.5H1060M1061 432.5H1062M1063 432.5H1064M1065 416.5H1067M1068 416.5H1069M1070 409.5H1072M1073 409.5H1074M1075 382.5H1076M1077 382.5H1078M1079 371.5H1081M1082 371.5H1083M1084 369.5H1085M1086 369.5H1087M1088 350.5H1090M1091 350.5H1092M1093 380.5H1095M1096 380.5H1097M1098 438.5H1099M1100 438.5H1101M1102 485.5H1104M1105 485.5H1106M1107 495.5H1108M1109 495.5H1110M1111 497.5H1113M1114 497.5H1115M1116 502.5H1118M1119 502.5H1120M1121 497.5H1122M1123 497.5H1124M1125 484.5H1127M1128 484.5H1129M1130 483.5H1131M1132 483.5H1133M1134 480.5H1136M1137 480.5H1138M1139 485.5H1141M1142 485.5H1143M1144 476.5H1145M1146 476.5H1147M1148 479.5H1150M1151 479.5H1152M1153 483.5H1154M1155 483.5H1156M1157 498.5H1159M1160 498.5H1161M1162 504.5H1164M1165 504.5H1166M1167 478.5H1168M1169 478.5H1170M1171 472.5H1173M1174 472.5H1175M1176 479.5H1177M1178 479.5H1179M1180 485.5H1182M1183 485.5H1184M1185 538.5H1187M1188 538.5H1189M1190 566.5H1191M1192 580.5H1193M1194 603.5H1196M1197 603.5H1198M1199 617.5H1200M1201 617.5H1202M1203 653.5H1205M1206 653.5H1207M1208 673.5H1210M1211 673.5H1212M1213 702.5H1214M1215 702.5H1216M1217 707.5H1219M1220 707.5H1221M1222 709.5H1223M1224 709.5H1225M1226 705.5H1228M1229 705.5H1230M1231 703.5H1233M1234 703.5H1235M1236 703.5H1237M1238 703.5H1239M1240 711.5H1242M1243 711.5H1244M1245 708.5H1247M1252 708.5H1253M1254 696.5H1256M1257 696.5H1258M1259 700.5H1260M1261 700.5H1262M1263 700.5H1265M1266 700.5H1267M1268 694.5H1269M1270 694.5H1271M1272 695.5H1274M1275 695.5H1276M1277 693.5H1279M1280 693.5H1281M1282 689.5H1283M1284 689.5H1285M1286 686.5H1288M1289 686.5H1290M1291 681.5H1292M1293 681.5H1294M1295 685.5H1297M1298 685.5H1299M1300 683.5H1302M1303 683.5H1304M1305 676.5H1306M1307 676.5H1308M1309 674.5H1311M1312 674.5H1313M1314 678.5H1315M1316 678.5H1317M1318 720.5H1320M1321 720.5H1322M1323 733.5H1325M1326 733.5H1327M1328 725.5H1329M1330 725.5H1331M1332 735.5H1334M1335 735.5H1336M1337 744.5H1338M1339 744.5H1340M1341 755.5H1343M1344 755.5H1345M1346 754.5H1348M1349 754.5H1350M1351 752.5H1352M1353 752.5H1354M1355 746.5H1357M1358 746.5H1359M1360 738.5H1361M1362 738.5H1363M1364 730.5H1366M1367 727.5H1368M1369 706.5H1371M1372 706.5H1373M1374 690.5H1375M1376 690.5H1377M1378 682.5H1380M1381 682.5H1382M1383 689.5H1384M1385 689.5H1386M1387 694.5H1389M1390 694.5H1391M1392 704.5H1394M1395 704.5H1396M1397 705.5H1398M1399 705.5H1400M1401 684.5H1403M1404 684.5H1405M1406 684.5H1407M1408 684.5H1409M1410 685.5H1412M1413 685.5H1414M1415 688.5H1417M1418 688.5H1419M1420 690.5H1421M1422 690.5H1423M1424 703.5H1426M1427 703.5H1428M1429 707.5H1430M1431 707.5H1432M1433 711.5H1435M1436 711.5H1437M1438 665.5H1440M1441 660.5H1442M1443 636.5H1444M1445 636.5H1446M1447 622.5H1449M1450 622.5H1451M1452 612.5H1453M1454 612.5H1455M1456 644.5H1458M1459 644.5H1460M1461 692.5H1463M1464 692.5H1465M1466 692.5H1467M1468 692.5H1469M1470 695.5H1472M1473 695.5H1474M1475 703.5H1476M1477 703.5H1478M1479 697.5H1481M1482 697.5H1483M1484 723.5H1486M1487 723.5H1488M1489 738.5H1490M1491 738.5H1492M1493 743.5H1495M1496 743.5H1497M1498 743.5H1499M1500 743.5H1501M1502 742.5H1504M1505 742.5H1506M1507 752.5H1509M1510 752.5H1511M1512 757.5H1514" stroke="#000" stroke-width="1" fill="none" shape-rendering="crispEdges"/>
<line x1="1088" y1="302.5" x2="1616.7" y2="302.5" stroke="#9c3b3b" stroke-width="1"/>
<text x="1302.75" y="294.8" font-size="17" fill="#111" font-weight="normal" textLength="121.81" lengthAdjust="spacingAndGlyphs" >Invalidation Level</text>
<text x="1620.5" y="298.7" font-size="17.4" fill="#111" font-weight="normal" textLength="57.399999999999906" lengthAdjust="spacingAndGlyphs" font-family="Liberation Serif" >1.11728</text>
<rect x="1473" y="255.1" width="135.8" height="35.6" fill="#fff" stroke="#ee0000" stroke-width="4"/>
<text x="1477.56" y="281" font-size="26.7" fill="#ee0000" font-weight="bold" textLength="106.17" lengthAdjust="spacingAndGlyphs" stroke="#ee0000" stroke-width="0.5">Right Side</text>
<path d="M1589.7 262.2 L1598.3 262.2 L1598.3 272.3 L1601.6 272.3 L1594 280.6 L1586.5 272.3 L1589.7 272.3 Z" fill="#ee0000"/>
<text x="148.24" y="129.5" font-size="23.0" fill="#000" font-weight="normal" textLength="46.02" lengthAdjust="spacingAndGlyphs" >((c))</text>
<text x="34.16" y="246.6" font-size="23.0" fill="#000" font-weight="normal" textLength="46.88" lengthAdjust="spacingAndGlyphs" >((a))</text>
<text x="324.79" y="317.0" font-size="23.0" fill="#000" font-weight="normal" textLength="44.62" lengthAdjust="spacingAndGlyphs" >((x))</text>
<text x="58.65" y="434.0" font-size="23.0" fill="#000" font-weight="normal" textLength="47.2" lengthAdjust="spacingAndGlyphs" >((b))</text>
<text x="13.77" y="600.2" font-size="23.0" fill="#000" font-weight="normal" textLength="45.26" lengthAdjust="spacingAndGlyphs" >((y))</text>
<text x="281.47" y="551.2" font-size="23.0" fill="#000" font-weight="normal" textLength="50.76" lengthAdjust="spacingAndGlyphs" >((w))</text>
<text x="590.57" y="788.1" font-size="23.0" fill="#000" font-weight="normal" textLength="45.16" lengthAdjust="spacingAndGlyphs" >((y))</text>
<text x="921.08" y="464.6" font-size="23.0" fill="#000" font-weight="normal" textLength="38.14" lengthAdjust="spacingAndGlyphs" >((i))</text>
<text x="937.31" y="597.0" font-size="23.0" fill="#000" font-weight="normal" textLength="42.68" lengthAdjust="spacingAndGlyphs" >((ii))</text>
<text x="976.43" y="480.8" font-size="23.0" fill="#000" font-weight="normal" textLength="48.85" lengthAdjust="spacingAndGlyphs" >((iv))</text>
<text x="964.13" y="330.2" font-size="23.0" fill="#0a3560" font-weight="normal" textLength="47.44" lengthAdjust="spacingAndGlyphs" >((iii))</text>
<text x="1065.87" y="290.0" font-size="23.0" fill="#000" font-weight="normal" textLength="43.66" lengthAdjust="spacingAndGlyphs" >((v))</text>
<text x="1329.38" y="832.4" font-size="23.0" fill="#000" font-weight="normal" textLength="46.34" lengthAdjust="spacingAndGlyphs" >((a))</text>
<text x="1429.54" y="536.0" font-size="23.0" fill="#000" font-weight="normal" textLength="47.41" lengthAdjust="spacingAndGlyphs" >((b))</text>
<text x="276.17" y="228.2" font-size="23.0" fill="#0b0bd0" font-weight="normal" textLength="32.16" lengthAdjust="spacingAndGlyphs" >(b)</text>
<text x="261.84" y="362.4" font-size="23.0" fill="#0b0bd0" font-weight="normal" textLength="30.83" lengthAdjust="spacingAndGlyphs" >(a)</text>
<text x="19.83" y="566.9" font-size="23.0" fill="#0b0bd0" font-weight="normal" textLength="29.43" lengthAdjust="spacingAndGlyphs" >(c)</text>
<text x="290.63" y="524.8" font-size="23.0" fill="#0b0bd0" font-weight="normal" textLength="29.43" lengthAdjust="spacingAndGlyphs" >(c)</text>
<text x="416.58" y="523.8" font-size="23.0" fill="#0b0bd0" font-weight="normal" textLength="31.83" lengthAdjust="spacingAndGlyphs" >(b)</text>
<text x="394.98" y="645.6" font-size="23.0" fill="#0b0bd0" font-weight="normal" textLength="29.94" lengthAdjust="spacingAndGlyphs" >(a)</text>
<text x="599.87" y="762.1" font-size="23.0" fill="#0b0bd0" font-weight="normal" textLength="28.76" lengthAdjust="spacingAndGlyphs" >(c)</text>
<text x="593.39" y="840.9" font-size="23.0" fill="#0b0bd0" font-weight="normal" textLength="41.71" lengthAdjust="spacingAndGlyphs" >(W)</text>
<text x="1070.13" y="240.3" font-size="23.0" fill="#0b0bd0" font-weight="normal" textLength="32.75" lengthAdjust="spacingAndGlyphs" >(X)</text>
<text x="1137.46" y="435.8" font-size="23.0" fill="#0b0bd0" font-weight="normal" textLength="27.58" lengthAdjust="spacingAndGlyphs" >(ii)</text>
<text x="1097.61" y="544.6" font-size="23.0" fill="#0b0bd0" font-weight="normal" textLength="22.78" lengthAdjust="spacingAndGlyphs" >(i)</text>
<text x="1197.6" y="762.3" font-size="23.0" fill="#0b0bd0" font-weight="normal" textLength="32.31" lengthAdjust="spacingAndGlyphs" >(iii)</text>
<text x="1297.8" y="638.6" font-size="23.0" fill="#0b0bd0" font-weight="normal" textLength="33.6" lengthAdjust="spacingAndGlyphs" >(iv)</text>
<text x="1393.86" y="650.9" font-size="23.0" fill="#0b0bd0" font-weight="normal" textLength="30.38" lengthAdjust="spacingAndGlyphs" >(a)</text>
<text x="1337.78" y="803.1" font-size="23.0" fill="#0b0bd0" font-weight="normal" textLength="28.54" lengthAdjust="spacingAndGlyphs" >(v)</text>
<text x="1420.62" y="761.5" font-size="23.0" fill="#0b0bd0" font-weight="normal" textLength="31.16" lengthAdjust="spacingAndGlyphs" >(b)</text>
<text x="1439.87" y="560.9" font-size="23.0" fill="#0b0bd0" font-weight="normal" textLength="28.76" lengthAdjust="spacingAndGlyphs" >(c)</text>
<text x="1536.17" y="692.4" font-size="23.0" fill="#0b0bd0" font-weight="normal" textLength="27.47" lengthAdjust="spacingAndGlyphs" >(ii)</text>
<text x="1519.75" y="805.2" font-size="23.0" fill="#0b0bd0" font-weight="normal" textLength="22.2" lengthAdjust="spacingAndGlyphs" >(i)</text>
<text x="164.48" y="103.4" font-size="23.0" fill="#e3061c" font-weight="normal" textLength="15.4" lengthAdjust="spacingAndGlyphs" >X</text>
<text x="23.8" y="637.9" font-size="23.0" fill="#e3061c" font-weight="normal" textLength="22.18" lengthAdjust="spacingAndGlyphs" >W</text>
<text x="604.9" y="815.3" font-size="23.0" fill="#e3061c" font-weight="normal" textLength="15.2" lengthAdjust="spacingAndGlyphs" >Y</text>
<text x="768.96" y="416.7" font-size="23.0" fill="#e3061c" font-weight="normal" textLength="14.48" lengthAdjust="spacingAndGlyphs" >A</text>
<text x="868.93" y="664.4" font-size="23.0" fill="#e3061c" font-weight="normal" textLength="16.04" lengthAdjust="spacingAndGlyphs" >B</text>
<text x="1076.54" y="264.6" font-size="23.0" fill="#e3061c" font-weight="normal" textLength="17.22" lengthAdjust="spacingAndGlyphs" >C</text>
<path d="M3 246.5 Q6.5 252 3 258" fill="none" stroke="#0b0bd0" stroke-width="2"/>
<polyline points="1515.2,745.4 1529.8,782 1552.3,699.8 1612.5,906.7" fill="none" stroke="#111" stroke-width="1.1"/>
<defs><filter id="sh" x="-5%" y="-30%" width="110%" height="160%"><feGaussianBlur stdDeviation="1.1"/></filter></defs>
<text x="1261.37" y="932.3" font-size="23.3" fill="#888" font-weight="normal" textLength="513.17" lengthAdjust="spacingAndGlyphs" filter="url(#sh)">EWF Group   Asia Updated  .22.2020 2. 5 GMT</text>
<path d="M515 0L515 1237L197 1010L197 1180L530 1409L696 1409L696 0Z" transform="translate(1391.90 932.3) scale(0.01147 -0.01138)" fill="#888" filter="url(#sh)"/>
<path d="M515 0L515 1237L197 1010L197 1180L530 1409L696 1409L696 0Z" transform="translate(1559.07 932.3) scale(0.01147 -0.01138)" fill="#888" filter="url(#sh)"/>
<path d="M515 0L515 1237L197 1010L197 1180L530 1409L696 1409L696 0Z" transform="translate(1689.69 932.3) scale(0.01147 -0.01138)" fill="#888" filter="url(#sh)"/>
<text x="1259.37" y="930.3" font-size="23.3" fill="#1a1a1a" font-weight="normal" textLength="513.17" lengthAdjust="spacingAndGlyphs" >EWF Group   Asia Updated  .22.2020 2. 5 GMT</text>
<path d="M515 0L515 1237L197 1010L197 1180L530 1409L696 1409L696 0Z" transform="translate(1389.90 930.3) scale(0.01147 -0.01138)" fill="#1a1a1a" />
<path d="M515 0L515 1237L197 1010L197 1180L530 1409L696 1409L696 0Z" transform="translate(1557.07 930.3) scale(0.01147 -0.01138)" fill="#1a1a1a" />
<path d="M515 0L515 1237L197 1010L197 1180L530 1409L696 1409L696 0Z" transform="translate(1687.69 930.3) scale(0.01147 -0.01138)" fill="#1a1a1a" />
</svg></body></html>
